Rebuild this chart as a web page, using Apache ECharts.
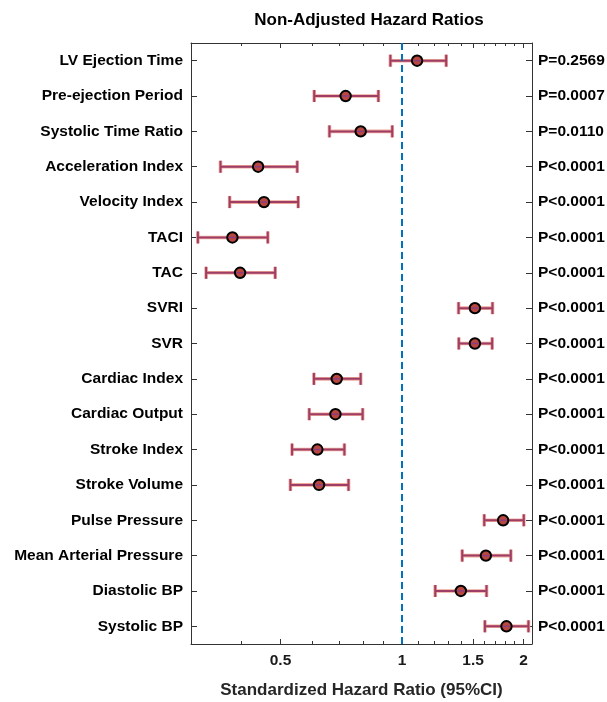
<!DOCTYPE html>
<html><head><meta charset="utf-8">
<script src="https://cdn.jsdelivr.net/npm/echarts@6/dist/echarts.min.js"></script>
<style>html,body{margin:0;padding:0;background:#fff}#c{width:607px;height:702px}</style>
</head><body><div id="c"></div>
<script>
const categories = ['LV Ejection Time','Pre-ejection Period','Systolic Time Ratio','Acceleration Index','Velocity Index','TACI','TAC','SVRI','SVR','Cardiac Index','Cardiac Output','Stroke Index','Stroke Volume','Pulse Pressure','Mean Arterial Pressure','Diastolic BP','Systolic BP'];
const hazardRatio = [1.09,0.725,0.79,0.44,0.455,0.38,0.397,1.516,1.516,0.689,0.684,0.617,0.623,1.781,1.614,1.399,1.815];
const ciLower = [0.936,0.606,0.661,0.355,0.374,0.312,0.327,1.381,1.383,0.605,0.589,0.534,0.529,1.599,1.410,1.209,1.605];
const ciUpper = [1.287,0.874,0.946,0.550,0.553,0.465,0.485,1.676,1.673,0.790,0.799,0.720,0.737,2.004,1.861,1.620,2.058];
const pValues = ['P=0.2569','P=0.0007','P=0.0110','P<0.0001','P<0.0001','P<0.0001','P<0.0001','P<0.0001','P<0.0001','P<0.0001','P<0.0001','P<0.0001','P<0.0001','P<0.0001','P<0.0001','P<0.0001','P<0.0001'];
const majorTicks = [0.5,1,1.5,2];
const majorTickLabels = ['0.5','1','1.5','2'];
const minorTicks = [0.3,0.4,0.6,0.7,0.8,0.9,1.1,1.2,1.3,1.4,1.6,1.7,1.8,1.9];
const referenceValue = 1;
const axisMin = 0.3, axisMax = 2.1;

const L = Math.log10;
const FONT = "'Liberation Sans', Arial, Helvetica, sans-serif";
const AX = '#333';
const gridRect = {left:191, top:43, width:341, height:601, containLabel:false, outerBoundsMode:'none'};
const tickGridRect = {left:197, top:43, width:329, height:601, containLabel:false, outerBoundsMode:'none'};

function labelFor(v){
  let best = 0, d = Infinity;
  majorTicks.forEach((t,i)=>{const dd=Math.abs(L(t)-v); if(dd<d){d=dd;best=i;}});
  return majorTickLabels[best];
}

const chart = echarts.init(document.getElementById('c'), null, {renderer:'canvas'});
const data = categories.map((c,i)=>[L(ciLower[i]), L(hazardRatio[i]), L(ciUpper[i]), i]);

function xAxisBase(extra){
  return Object.assign({type:'value', min:L(axisMin), max:L(axisMax), splitLine:{show:false}}, extra);
}
function tickOnlyY(position){
  return {type:'category', gridIndex:2, position:position, data:categories, inverse:true,
    axisLine:{show:false, onZero:false},
    axisTick:{show:true, inside:false, length:6, alignWithLabel:true, lineStyle:{color:AX}},
    axisLabel:{show:false}, splitLine:{show:false}};
}

chart.setOption({
  animation:false,
  graphic:[{type:'text', x:369, y:20, style:{text:'Non-Adjusted Hazard Ratios', fontFamily:FONT, fontSize:17, fontWeight:'bold', fill:'#000', align:'center', verticalAlign:'middle'}}],
  grid:[Object.assign({}, gridRect), Object.assign({}, gridRect), Object.assign({}, tickGridRect)],
  xAxis:[
    xAxisBase({gridIndex:0, position:'bottom',
      name:'Standardized Hazard Ratio (95%CI)', nameLocation:'middle', nameGap:38,
      nameTextStyle:{fontFamily:FONT, fontSize:17, fontWeight:'bold', color:'#262626'},
      axisLine:{show:true, onZero:false, lineStyle:{color:AX, width:1}},
      axisTick:{show:true, inside:true, length:5, customValues:majorTicks.map(L), lineStyle:{color:AX}},
      axisLabel:{show:true, margin:9, customValues:majorTicks.map(L), formatter:labelFor, fontFamily:FONT, fontSize:15.5, fontWeight:'bold', color:'#1a1a1a'}}),
    xAxisBase({gridIndex:0, position:'top',
      axisLine:{show:true, onZero:false, lineStyle:{color:AX, width:1}},
      axisTick:{show:true, inside:true, length:5, customValues:majorTicks.map(L), lineStyle:{color:AX}},
      axisLabel:{show:false}}),
    xAxisBase({gridIndex:1, position:'bottom',
      axisLine:{show:false, onZero:false},
      axisTick:{show:true, inside:true, length:3, customValues:minorTicks.map(L), lineStyle:{color:AX}},
      axisLabel:{show:false}}),
    xAxisBase({gridIndex:1, position:'top',
      axisLine:{show:false, onZero:false},
      axisTick:{show:true, inside:true, length:3, customValues:minorTicks.map(L), lineStyle:{color:AX}},
      axisLabel:{show:false}}),
    xAxisBase({gridIndex:2, show:false})
  ],
  yAxis:[
    {type:'category', gridIndex:0, position:'left', data:categories, inverse:true,
      axisLine:{show:true, onZero:false, lineStyle:{color:AX, width:1}},
      axisTick:{show:false},
      axisLabel:{margin:8, fontFamily:FONT, fontSize:15.5, fontWeight:'bold', color:'#000'},
      splitLine:{show:false}},
    {type:'category', gridIndex:0, position:'right', data:pValues, inverse:true,
      axisLine:{show:true, onZero:false, lineStyle:{color:AX, width:1}},
      axisTick:{show:false},
      axisLabel:{margin:6, fontFamily:FONT, fontSize:15.5, fontWeight:'bold', color:'#000'},
      splitLine:{show:false}},
    {type:'category', gridIndex:1, data:categories, inverse:true, show:false, axisLine:{onZero:false}},
    tickOnlyY('left'),
    tickOnlyY('right')
  ],
  series:[
    {type:'line', xAxisIndex:0, yAxisIndex:0, data:[], z:1, silent:true,
      markLine:{symbol:'none', silent:true, label:{show:false},
        lineStyle:{color:'#0072BD', type:[7,4], width:2},
        data:[{xAxis:L(referenceValue)}]}},
    {type:'custom', xAxisIndex:0, yAxisIndex:0, z:3, data:data, encode:{x:[0,1,2], y:3},
      renderItem:function(params, api){
        const i = api.value(3);
        const lo = api.coord([api.value(0), i]);
        const mid = api.coord([api.value(1), i]);
        const hi = api.coord([api.value(2), i]);
        const y = mid[1], cap = 6;
        const halo = {stroke:'#EFA898', lineWidth:3.6};
        const core = {stroke:'#9E3D66', lineWidth:2};
        const seg = (x1,y1,x2,y2,style)=>({type:'line', shape:{x1:x1,y1:y1,x2:x2,y2:y2}, style:style});
        return {type:'group', children:[
          seg(lo[0],y,hi[0],y,halo), seg(lo[0],y-cap,lo[0],y+cap,halo), seg(hi[0],y-cap,hi[0],y+cap,halo),
          seg(lo[0],y,hi[0],y,core), seg(lo[0],y-cap,lo[0],y+cap,core), seg(hi[0],y-cap,hi[0],y+cap,core),
          {type:'circle', shape:{cx:mid[0], cy:y, r:5.2}, style:{fill:'#B8473F', stroke:'#000', lineWidth:2}},
          seg(mid[0]-3.5,y,mid[0]+3.5,y,{stroke:'#8B3C86', lineWidth:1.4})
        ]};
      }}
  ]
});
</script></body></html>
